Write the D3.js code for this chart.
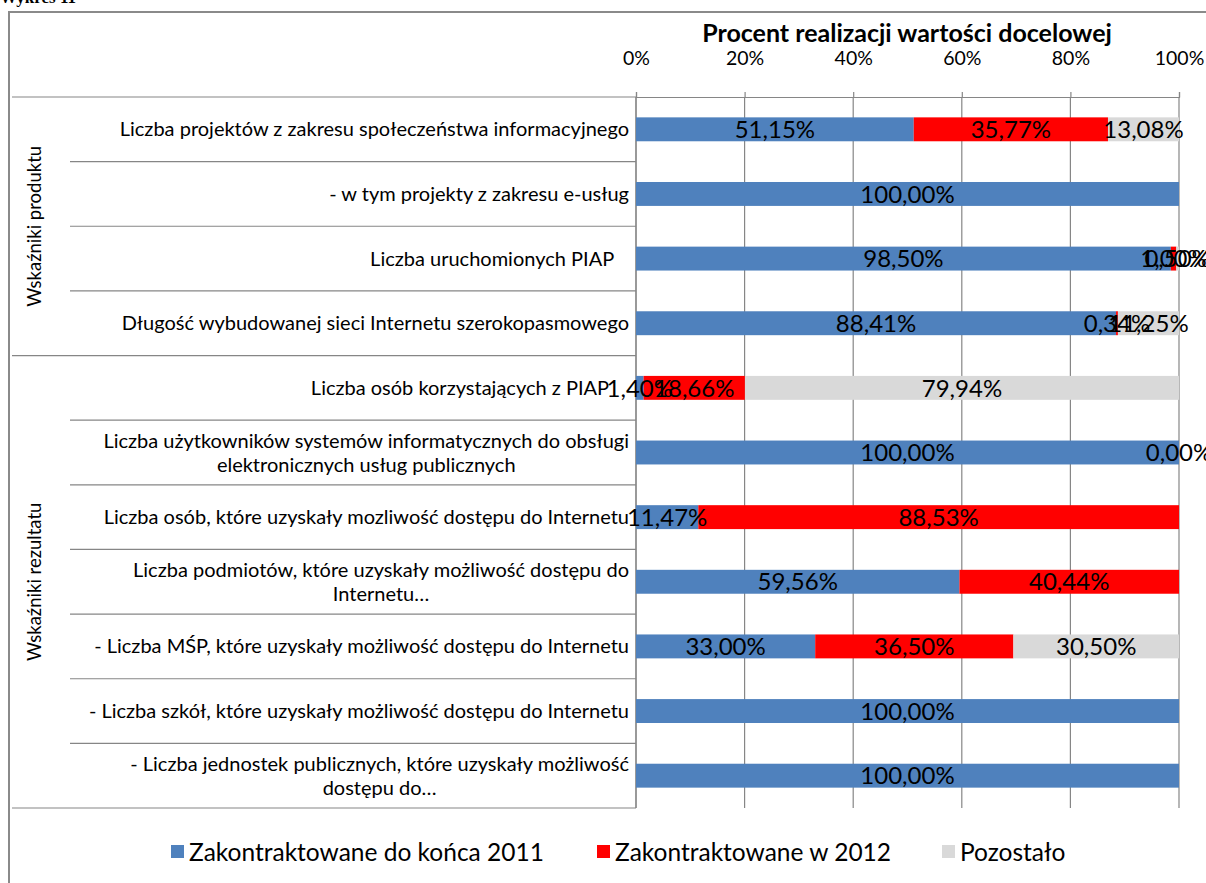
<!DOCTYPE html>
<html><head><meta charset="utf-8">
<script src="https://cdn.jsdelivr.net/npm/d3@7"></script>
<style>body{margin:0;background:#fff;overflow:hidden} svg{display:block;font-family:Lato,'Open Sans',sans-serif;} .cat text{white-space:pre}</style>
</head><body><svg id="c" width="1206" height="883"></svg>
<script>
const categories = [
  "Liczba projektów z zakresu społeczeństwa informacyjnego",
  "- w tym projekty z zakresu e-usług",
  "Liczba uruchomionych PIAP   ",
  "Długość wybudowanej sieci Internetu szerokopasmowego",
  "Liczba osób korzystających z PIAP    ",
  "Liczba użytkowników systemów informatycznych do obsługi\nelektronicznych usług publicznych",
  "Liczba osób, które uzyskały mozliwość dostępu do Internetu",
  "Liczba podmiotów, które uzyskały możliwość dostępu do\nInternetu…",
  "- Liczba MŚP, które uzyskały możliwość dostępu do Internetu",
  "- Liczba szkół, które uzyskały możliwość dostępu do Internetu",
  "- Liczba jednostek publicznych, które uzyskały możliwość\ndostępu do…"
];
const groupNames = ["Wskaźniki produktu", "Wskaźniki rezultatu"];
const groupSizes = [4, 7];
const seriesNames = ["Zakontraktowane do końca 2011", "Zakontraktowane w 2012", "Pozostało"];
const s2011 = [51.15, 100.00, 98.50, 88.41, 1.40, 100.00, 11.47, 59.56, 33.00, 100.00, 100.00];
const s2012 = [35.77, null, 1.00, 0.34, 18.66, 0.00, 88.53, 40.44, 36.50, null, null];
const sRest = [13.08, null, 0.50, 11.25, 79.94, null, null, null, 30.50, null, null];
const tickValues = [0, 20, 40, 60, 80, 100];
const axisTitle = "Procent realizacji wartości docelowej";
const colors = ["#4F81BD", "#FF0000", "#D9D9D9"];

const svg = d3.select("#c");
const X0 = 636, X1 = 1179, Y0 = 97, Y1 = 808;
const x = d3.scaleLinear().domain([0, 100]).range([X0, X1]);
const y = d3.scaleBand().domain(d3.range(categories.length)).range([Y0, Y1]).paddingInner(0.63).paddingOuter(0.315);
const step = y.step();
const fmt = v => v.toFixed(2).replace(".", ",") + "%";

// clipped heading
svg.append("text").attr("x", 0).attr("y", 3).attr("font-family", "Liberation Serif").attr("font-weight", "bold").attr("font-size", 17).text("Wykres 11");
// frame
svg.append("rect").attr("x", 9).attr("y", 12).attr("width", 1300).attr("height", 1000).attr("fill", "none").attr("stroke", "#8a8a8a").attr("stroke-width", 2);

// gridlines
const grid = svg.append("g");
tickValues.forEach(t => {
  grid.append("line").attr("x1", x(t)).attr("x2", x(t)).attr("y1", Y0).attr("y2", Y1).attr("stroke", "#868686").attr("stroke-width", 1.2);
});

// top axis
const axis = d3.axisTop(x).tickValues(tickValues).tickSize(5).tickFormat(d => d + "%");
const ag = svg.append("g").attr("transform", `translate(0,${Y0})`).call(axis);
ag.select(".domain").attr("stroke", "#868686").attr("stroke-width", 1.2);
ag.selectAll(".tick line").attr("stroke", "#868686").attr("stroke-width", 1.2);
ag.selectAll(".tick text").attr("font-size", 19.5).attr("font-family", "Lato").attr("fill", "#000").attr("y", -39).attr("dy", "0.35em");
svg.append("text").attr("x", 907).attr("y", 33).attr("dy", "0.35em").attr("text-anchor", "middle").attr("font-weight", "bold").attr("font-size", 25).text(axisTitle);

// category axis line
svg.append("line").attr("x1", X0).attr("x2", X0).attr("y1", Y0).attr("y2", Y1).attr("stroke", "#868686").attr("stroke-width", 1.2);

// separators
const groupEnds = [0];
groupSizes.forEach((n, i) => groupEnds.push(groupEnds[i] + n));
for (let i = 0; i <= categories.length; i++) {
  const yy = Y0 + i * step;
  const isGroup = groupEnds.includes(i);
  svg.append("line").attr("x1", isGroup ? 12 : 70).attr("x2", X0).attr("y1", yy).attr("y2", yy).attr("stroke", "#868686").attr("stroke-width", 1.2);
}
// group labels
groupNames.forEach((g, i) => {
  const cy = Y0 + (groupEnds[i] + groupEnds[i + 1]) / 2 * step;
  svg.append("text").attr("transform", `translate(35,${cy}) rotate(-90)`).attr("text-anchor", "middle").attr("dy", "0.35em").attr("font-size", 18.5).text(g);
});

// category labels
const catG = svg.append("g").attr("class", "cat").attr("font-size", 20);
categories.forEach((c, i) => {
  const lines = c.split("\n");
  const cy = y(i) + y.bandwidth() / 2;
  const lh = 24;
  const t = catG.append("text");
  lines.forEach((l, k) => {
    t.append("tspan").attr("y", cy + (k - (lines.length - 1) / 2) * lh).attr("dy", "0.35em").text(l);
  });
  if (lines.length === 1) {
    t.attr("text-anchor", "end").selectAll("tspan").attr("x", 629);
  } else {
    const w = d3.max(t.selectAll("tspan").nodes(), n => n.getComputedTextLength());
    t.attr("text-anchor", "middle").selectAll("tspan").attr("x", 629 - w / 2);
  }
});

// bars
const seriesData = [s2011, s2012, sRest];
const stacked = categories.map((c, i) => {
  let acc = 0;
  return seriesData.map((s, k) => {
    const v = s[i];
    const seg = {i, k, v, x0: acc, x1: acc + (v || 0)};
    acc += v || 0;
    return seg;
  });
});
const segs = stacked.flat();
svg.append("g").selectAll("rect").data(segs.filter(d => d.v)).join("rect")
  .attr("x", d => x(d.x0)).attr("width", d => x(d.x1) - x(d.x0))
  .attr("y", d => y(d.i)).attr("height", y.bandwidth())
  .attr("fill", d => colors[d.k]);
svg.append("g").selectAll("text").data(segs.filter(d => d.v !== null)).join("text")
  .attr("x", d => x((d.x0 + d.x1) / 2)).attr("y", d => y(d.i) + y.bandwidth() / 2)
  .attr("dy", "0.36em").attr("text-anchor", "middle").attr("font-size", 24).attr("fill", "#000")
  .text(d => fmt(d.v));

// legend
const leg = svg.append("g").attr("font-size", 24.5);
const legX = [171, 597, 942];
seriesNames.forEach((s, k) => {
  leg.append("rect").attr("x", legX[k]).attr("y", 845).attr("width", 13).attr("height", 13).attr("fill", colors[k]);
  leg.append("text").attr("x", legX[k] + 18).attr("y", 852).attr("dy", "0.35em").text(s);
});
</script></body></html>
